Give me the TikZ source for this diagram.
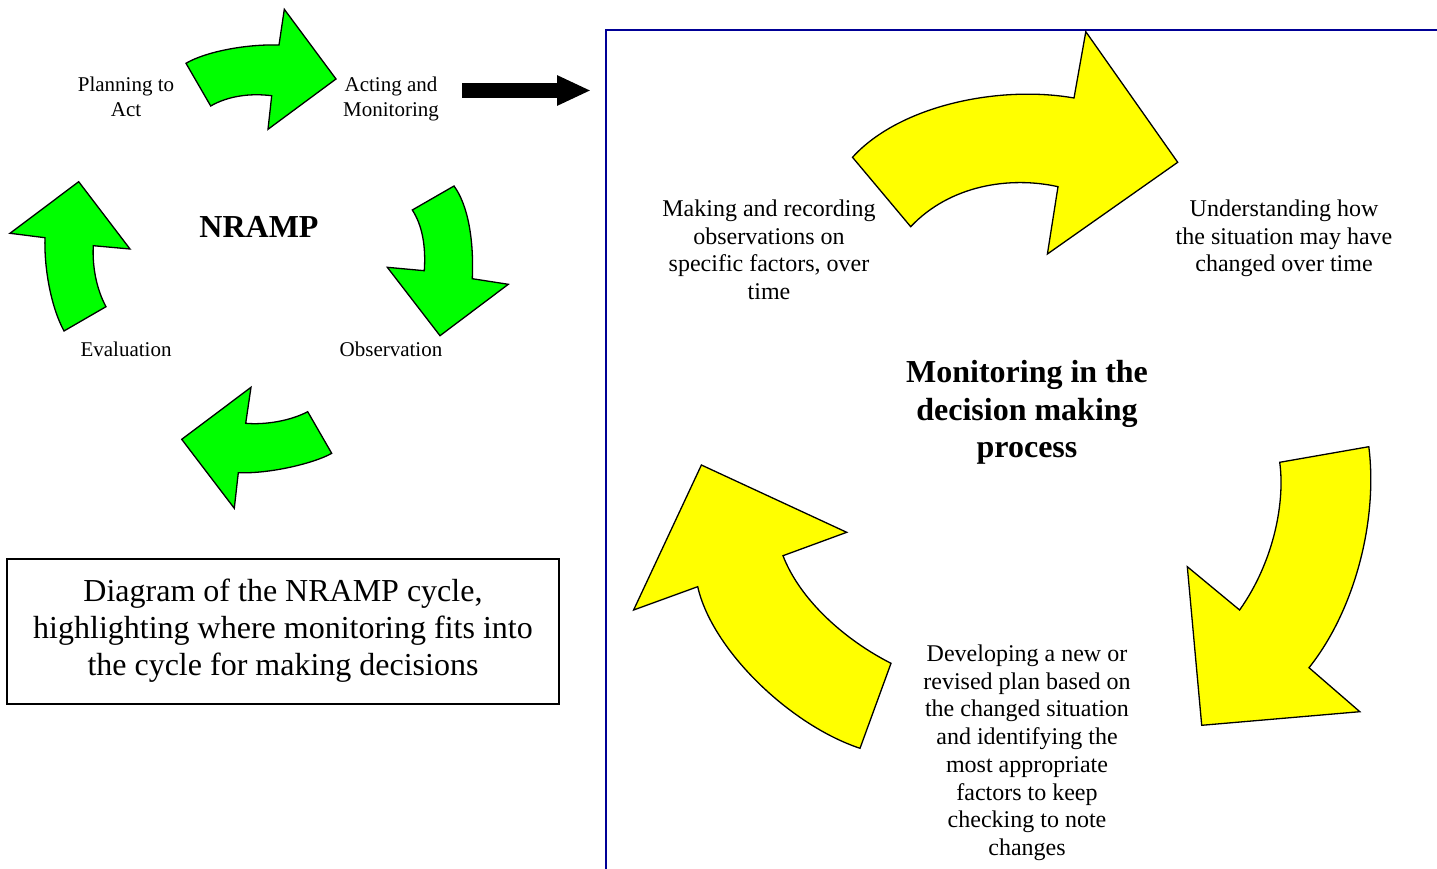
\documentclass[tikz,border=0pt]{standalone}
\usepackage{fontspec}
\setmainfont{Liberation Serif}
\usetikzlibrary{arrows.meta}
\definecolor{arrgreen}{RGB}{0,255,0}
\definecolor{arryellow}{RGB}{255,255,0}
\definecolor{framenavy}{RGB}{0,0,150}
\begin{document}
\begin{tikzpicture}[x=1pt,y=-1pt,
  greenarr/.style={fill=arrgreen,draw=black,line width=1.3pt,line join=miter},
  yellowarr/.style={fill=arryellow,draw=black,line width=1.3pt,line join=miter},
  smalllbl/.style={align=center,inner sep=0pt,font=\fontsize{21}{25}\selectfont},
  rightlbl/.style={align=center,inner sep=0pt,font=\fontsize{24}{27.7}\selectfont},
  bigbold/.style={align=center,inner sep=0pt,font=\fontsize{32}{37.5}\selectfont\bfseries}]
\useasboundingbox (0,0) rectangle (1437,869);
\fill[white] (0,0) rectangle (1437,869);

% ---------- green NRAMP cycle ----------
\draw[greenarr] (186,63.3) .. controls (205,52) and (245,44) .. (279,45) -- (284.3,9.3) -- (336,79)
  -- (268,129.3) -- (271.7,95.7) .. controls (250,93) and (228,96) .. (210.7,106) -- cycle;
\draw[greenarr] (454,186) .. controls (468,205) and (474,240) .. (472.3,278.7) -- (508.3,284.3) -- (440,335.7)
  -- (387.3,267.3) -- (424.3,270.7) .. controls (426,245) and (422,225) .. (412.3,210) -- cycle;
\draw[greenarr] (307.7,411.7) -- (331.7,453.3) .. controls (315,463) and (270,474) .. (238.3,472.7) -- (234.3,508.3)
  -- (181.7,439.3) -- (251,387.3) -- (245.7,423.3) .. controls (265,425) and (290,421) .. (307.7,411.7) -- cycle;
\draw[greenarr] (64,331) -- (106,306.7) .. controls (98,292) and (92,270) .. (93.3,245.7) -- (130,249)
  -- (78.7,181.7) -- (10,233.3) -- (45,237.7) .. controls (44,265) and (50,305) .. (64,331) -- cycle;

\node[smalllbl] (plan) at (126,99.5) {\strut Planning to\\Act\strut};
\node[smalllbl] (act) at (391,99.5) {\strut Acting and\\Monitoring\strut};
\node[smalllbl] (eval) at (126,351.5) {\strut Evaluation};
\node[smalllbl] (obs) at (391,351.5) {\strut Observation};
\node[bigbold] (nramp) at (259,230) {\strut NRAMP};

% ---------- black arrow ----------
\coordinate (barstart) at (462,90.5);
\coordinate (barend) at (591,90.5);
\draw[line width=15pt,-{Triangle[length=34pt,width=28pt]}] (barstart) -- (barend);

% ---------- caption box ----------
\node[draw=black,line width=1.3pt,minimum width=552pt,minimum height=145pt,inner sep=0pt,
  align=center,font=\fontsize{32}{37}\selectfont] (caption) at (283,631.5)
  {\strut Diagram of the NRAMP cycle,\\highlighting where monitoring fits into\\the cycle for making decisions\strut};

% ---------- right panel frame ----------
\draw[framenavy,line width=1.8pt] (606,869) -- (606,30) -- (1437,30);

% ---------- yellow arrows ----------
\draw[yellowarr] (852.5,157.3) .. controls (900,105) and (1000,85) .. (1074,98) -- (1085.8,31.7)
  -- (1177.7,162.3) -- (1047.4,254) -- (1058,186.7) .. controls (1010,176) and (950,185) .. (910.7,226.7) -- cycle;
\draw[yellowarr] (1368.8,446.7) .. controls (1378,520) and (1355,610) .. (1309,667.7) -- (1359.8,711.7)
  -- (1201.7,725.3) -- (1187.3,566.7) -- (1239.6,610) .. controls (1275,560) and (1285,500) .. (1279.7,462.3) -- cycle;
\draw[yellowarr] (860,748.3) -- (891,663.3) .. controls (845,640) and (800,600) .. (783,555.7) -- (846.7,532.3)
  -- (701.4,465) -- (633.6,610) -- (697.7,586.7) .. controls (712,650) and (790,725) .. (860,748.3) -- cycle;

\node[rightlbl] (making) at (769,252.5) {\strut Making and recording\\observations on\\specific factors, over\\time\strut};
\node[rightlbl] (underst) at (1284,238.5) {\strut Understanding how\\the situation may have\\changed over time\strut};
\node[bigbold] (monit) at (1027,412.5) {\strut Monitoring in the\\decision making\\process\strut};
\node[rightlbl] (develop) at (1027,753) {\strut Developing a new or\\revised plan based on\\the changed situation\\and identifying the\\most appropriate\\factors to keep\\checking to note\\changes\strut};
\end{tikzpicture}
\end{document}
